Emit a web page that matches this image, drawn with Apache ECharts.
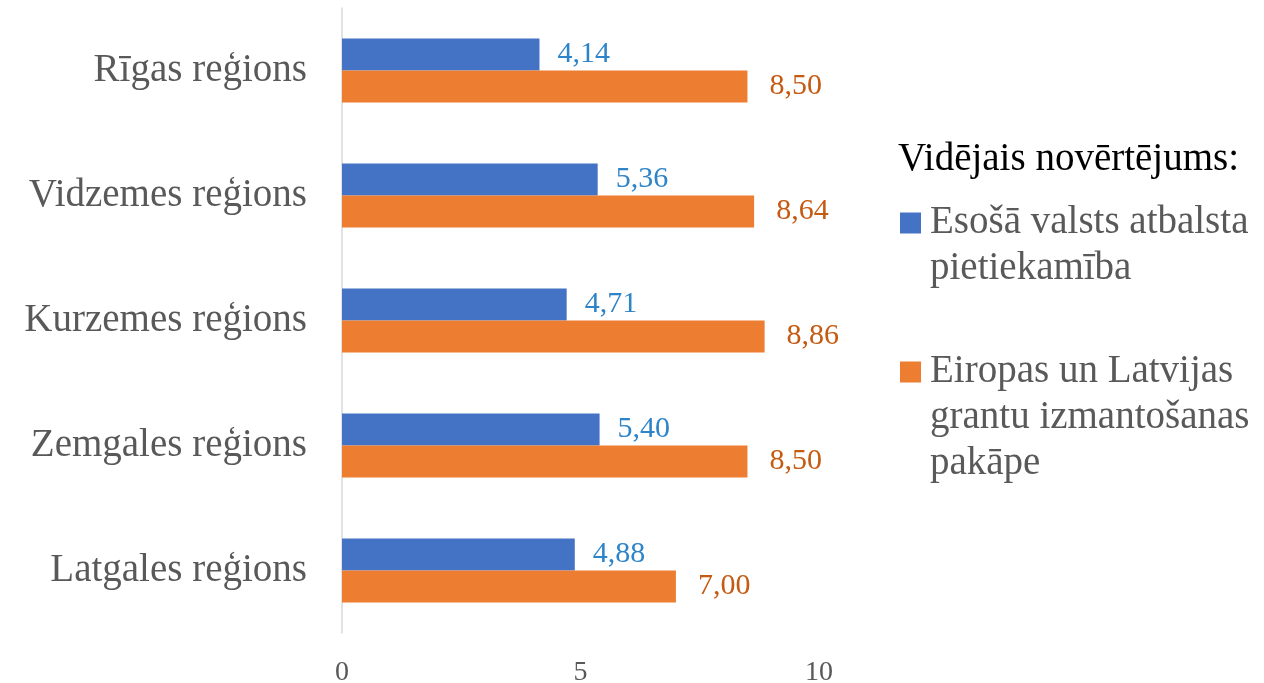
<!DOCTYPE html>
<html>
<head>
<meta charset="utf-8">
<script src="https://cdn.jsdelivr.net/npm/echarts@6/dist/echarts.min.js"></script>
<style>
  html, body { margin: 0; padding: 0; background: #fff; }
  #chart { width: 1264px; height: 683px; }
</style>
</head>
<body>
<div id="chart"></div>
<script>
  const regions = ['Rīgas reģions', 'Vidzemes reģions', 'Kurzemes reģions', 'Zemgales reģions', 'Latgales reģions'];
  const seriesNames = ['Esošā valsts atbalsta pietiekamība', 'Eiropas un Latvijas grantu izmantošanas pakāpe'];
  const legendLines = [
    ['Esošā valsts atbalsta', 'pietiekamība'],
    ['Eiropas un Latvijas', 'grantu izmantošanas', 'pakāpe']
  ];
  const supportValues = [4.14, 5.36, 4.71, 5.40, 4.88];
  const grantValues = [8.50, 8.64, 8.86, 8.50, 7.00];
  const xTicks = [0, 5, 10];

  const font = 'Liberation Serif';
  const chart = echarts.init(document.getElementById('chart'));

  // blank lines first so the icon sits beside the first real line
  function legendText(i) {
    const lines = legendLines[i];
    const pad = new Array(lines.length - 1).fill('');
    return pad.concat(lines).join('\n');
  }

  function fmt(p) {
    return p.value.toFixed(2).replace('.', ',');
  }

  const legendBase = {
    orient: 'vertical',
    left: 895,
    itemWidth: 21,
    itemHeight: 21,
    icon: 'rect',
    selectedMode: false,
    textStyle: {
      fontFamily: font,
      fontSize: 39,
      lineHeight: 46,
      color: '#595959',
      padding: [0, 0, 0, 4]
    }
  };

  chart.setOption({
    animation: false,
    color: ['#4472C4', '#ED7D31'],
    title: {
      text: 'Vidējais novērtējums:',
      left: 893,
      top: 135,
      textStyle: {
        fontFamily: font,
        fontSize: 39,
        fontWeight: 'normal',
        color: '#000'
      }
    },
    legend: [
      Object.assign({}, legendBase, {
        top: 149,
        data: [seriesNames[0]],
        formatter: () => legendText(0)
      }),
      Object.assign({}, legendBase, {
        top: 252,
        data: [seriesNames[1]],
        formatter: () => legendText(1)
      })
    ],
    grid: {
      left: 342,
      right: 445,
      top: 8,
      bottom: 50,
      outerBoundsMode: 'none'
    },
    xAxis: {
      type: 'value',
      min: xTicks[0],
      max: xTicks[xTicks.length - 1],
      interval: 5,
      axisLine: { show: false },
      axisTick: { show: false },
      splitLine: { show: false },
      axisLabel: {
        margin: 26,
        fontFamily: font,
        fontSize: 28,
        color: '#595959'
      }
    },
    yAxis: {
      type: 'category',
      inverse: true,
      data: regions,
      axisTick: { show: false },
      axisLine: {
        lineStyle: { color: '#D9D9D9', width: 1.5 }
      },
      axisLabel: {
        margin: 35,
        fontFamily: font,
        fontSize: 39,
        color: '#595959',
        padding: [5, 0, 0, 0]
      }
    },
    series: [
      {
        name: seriesNames[0],
        type: 'bar',
        data: supportValues,
        barWidth: 32,
        barGap: '0%',
        label: {
          show: true,
          position: 'right',
          distance: 18,
          formatter: fmt,
          fontFamily: font,
          fontSize: 30,
          color: '#2E84C8',
          padding: [5, 0, 0, 0]
        }
      },
      {
        name: seriesNames[1],
        type: 'bar',
        data: grantValues,
        barWidth: 32,
        barGap: '0%',
        label: {
          show: true,
          position: 'right',
          distance: 22,
          formatter: fmt,
          fontFamily: font,
          fontSize: 30,
          color: '#C55A11',
          padding: [5, 0, 0, 0]
        }
      }
    ]
  });
</script>
</body>
</html>
